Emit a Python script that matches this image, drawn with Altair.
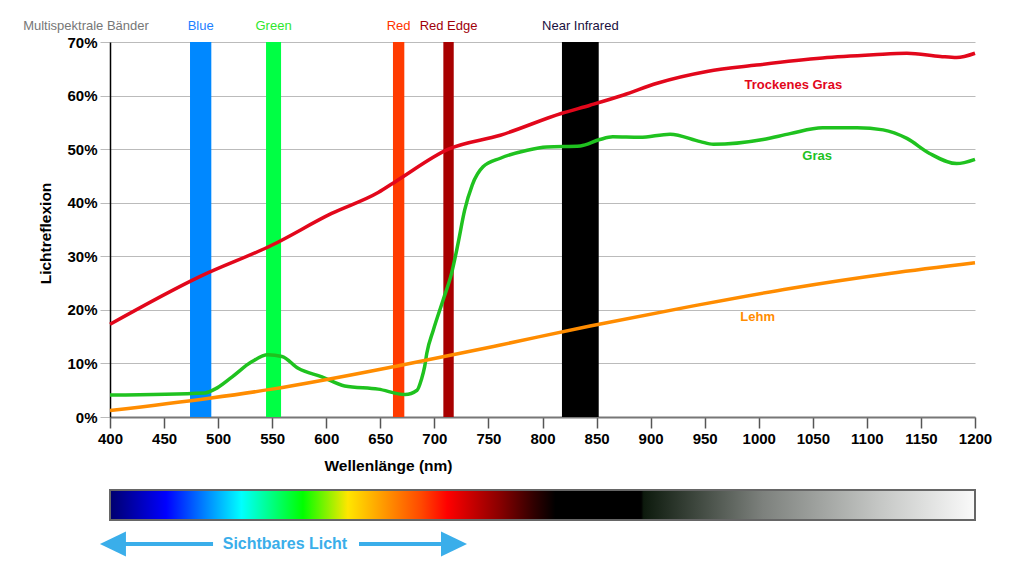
import altair as alt
import pandas as pd

FONT = "Liberation Sans"

# ---------------- data ----------------
series_names = ["Trockenes Gras", "Gras", "Lehm"]
series_colors = ["#e2071b", "#1fc21f", "#ff8c00"]

dry_nm = [400, 483, 550, 605, 648, 666, 713, 761, 818, 844, 875, 906, 952, 998, 1059, 1106, 1137, 1168, 1183, 1200]
dry_pct = [17.3, 26.2, 32.1, 38.0, 41.9, 44.2, 50.0, 52.6, 56.7, 58.2, 60.1, 62.3, 64.5, 65.7, 67.0, 67.6, 67.9, 67.3, 67.1, 67.9]

grass_nm = [400, 488, 497, 513, 531, 546, 559, 574, 596, 617, 648, 673, 684, 688, 691, 693, 699, 708, 716, 722,
            728, 735, 745, 761, 786, 804, 835, 853, 865, 890, 918, 946, 958, 1004, 1029, 1059, 1091, 1115, 1137, 1158,
            1183, 1200]
grass_pct = [4.1, 4.5, 5.2, 7.5, 10.3, 11.6, 11.3, 9.1, 7.5, 5.8, 5.2, 4.2, 5.0, 7.0, 9.4, 11.9, 16.2, 21.8, 26.9, 32.5,
             38.6, 43.3, 46.7, 48.3, 49.8, 50.4, 50.6, 51.8, 52.3, 52.2, 52.8, 51.4, 50.9, 51.8, 52.9, 54.0, 54.0, 53.6, 52.0, 49.2,
             47.3, 48.1]

soil_nm = [400, 492, 550, 668, 760, 844, 936, 1029, 1121, 1200]
soil_pct = [1.2, 3.5, 5.2, 9.6, 13.4, 17.0, 20.6, 24.0, 26.8, 28.8]

curve_label_nm = [1032, 1054, 999]
curve_label_pct = [62.0, 48.7, 18.6]

band_names = ["Blue", "Green", "Red", "Red Edge", "Near Infrared"]
band_start = [474.0, 544.3, 661.7, 708.3, 818.0]
band_end = [493.7, 558.2, 672.2, 717.9, 852.0]
band_fill = ["#0088ff", "#00ff44", "#ff3b00", "#a80000", "#000000"]
band_label_color = ["#1c80ff", "#2ee62e", "#ff3300", "#a0000a", "#1a1040"]

heading_text = "Multispektrale Bänder"
heading_nm = 377.8

spectrum_range = [400, 1200]
visible_arrow_nm = [390.7, 730.2]      # tips of the arrow
visible_shaft_left = [404.0, 495.3]
visible_shaft_right = [630.3, 717.0]
visible_text_nm = 561.8
visible_text = "Sichtbares Licht"
visible_color = "#3aaeea"

x_ticks = list(range(400, 1201, 50))
y_ticks = list(range(0, 71, 10))

# ---------------- tables ----------------
curves = pd.concat([
    pd.DataFrame({"series": series_names[0], "nm": dry_nm, "pct": dry_pct}),
    pd.DataFrame({"series": series_names[1], "nm": grass_nm, "pct": grass_pct}),
    pd.DataFrame({"series": series_names[2], "nm": soil_nm, "pct": soil_pct}),
], ignore_index=True)

curve_labels = pd.DataFrame({"series": series_names, "nm": curve_label_nm, "pct": curve_label_pct})

bands = pd.DataFrame({
    "band": band_names, "start": band_start, "end": band_end,
    "fill": band_fill, "lcolor": band_label_color,
})
bands["center"] = (bands["start"] + bands["end"]) / 2
bands["lo"] = 0
bands["hi"] = 70

heading = pd.DataFrame({"text": [heading_text], "nm": [heading_nm]})
spectrum = pd.DataFrame({"start": [spectrum_range[0]], "end": [spectrum_range[1]]})
shafts = pd.DataFrame({"start": [visible_shaft_left[0], visible_shaft_right[0]],
                       "end": [visible_shaft_left[1], visible_shaft_right[1]]})
heads = pd.DataFrame({"nm": visible_arrow_nm, "side": ["left", "right"]})
vis_text = pd.DataFrame({"nm": [visible_text_nm], "text": [visible_text]})

# ---------------- scales / axes ----------------
X_SCALE = alt.Scale(domain=[400, 1200], nice=False, zero=False)
Y_SCALE = alt.Scale(domain=[0, 70], nice=False, zero=True)
X_TITLE = "Wellenlänge (nm)"
Y_TITLE = "Lichtreflexion"

X_AXIS = alt.Axis(
    values=x_ticks, format="d", grid=False, domainColor="#777777", domainWidth=2,
    tickColor="#555555", tickSize=11, tickWidth=1.5,
    labelFont=FONT, labelFontSize=15, labelFontWeight="bold", labelColor="#000000",
    labelPadding=3, labelFlush=False, labelOverlap=False,
    titleFont=FONT, titleFontSize=15.5, titleFontWeight="bold", titleColor="#000000",
    titleX=278, titleY=48, titleAlign="center", titleBaseline="middle",
)
Y_AXIS = alt.Axis(
    values=y_ticks, grid=True, gridColor="#bbbbbb", gridWidth=1,
    domainColor="#000000", domainWidth=1.5,
    tickColor="#bbbbbb", tickSize=10, tickWidth=1,
    labelExpr="datum.value + '%'",
    labelFont=FONT, labelFontSize=15, labelFontWeight="bold", labelColor="#000000",
    labelPadding=3,
    titleFont=FONT, titleFontSize=15.5, titleFontWeight="bold", titleColor="#000000",
    titleX=-65, titleY=191, titleAngle=-90, titleAlign="center", titleBaseline="middle",
)


def X(field):
    return alt.X(field, type="quantitative", scale=X_SCALE, axis=X_AXIS, title=X_TITLE)


def Y(field):
    return alt.Y(field, type="quantitative", scale=Y_SCALE, axis=Y_AXIS, title=Y_TITLE)


# ---------------- layers ----------------
band_rects = alt.Chart(bands).mark_rect().encode(
    x=X("start"), x2="end", y=Y("lo"), y2="hi",
    fill=alt.Fill("fill:N", scale=None),
)

band_labels = alt.Chart(bands).mark_text(
    font=FONT, fontSize=13, baseline="middle", align="center"
).encode(
    x=X("center"), y=alt.value(-16), text="band:N",
    color=alt.Color("lcolor:N", scale=None),
)

heading_label = alt.Chart(heading).mark_text(
    font=FONT, fontSize=13, baseline="middle", align="center", color="#777777"
).encode(x=X("nm"), y=alt.value(-16), text="text:N")

lines = alt.Chart(curves).mark_line(interpolate="monotone", strokeWidth=3.5).encode(
    x=X("nm"), y=Y("pct"),
    color=alt.Color("series:N", scale=alt.Scale(domain=series_names, range=series_colors), legend=None),
    detail="series:N",
)

line_labels = alt.Chart(curve_labels).mark_text(
    font=FONT, fontSize=13, fontWeight="bold", baseline="middle", align="center"
).encode(
    x=X("nm"), y=Y("pct"), text="series:N",
    color=alt.Color("series:N", scale=alt.Scale(domain=series_names, range=series_colors), legend=None),
)

gradient = alt.Gradient(
    gradient="linear", x1=0, x2=1, y1=0, y2=0,
    stops=[
        alt.GradientStop(color="#00006e", offset=0.0),
        alt.GradientStop(color="#0000ff", offset=0.065),
        alt.GradientStop(color="#00ffff", offset=0.152),
        alt.GradientStop(color="#00ff00", offset=0.223),
        alt.GradientStop(color="#ffe600", offset=0.275),
        alt.GradientStop(color="#ffa500", offset=0.31),
        alt.GradientStop(color="#ff4800", offset=0.36),
        alt.GradientStop(color="#ff0000", offset=0.39),
        alt.GradientStop(color="#8a0000", offset=0.45),
        alt.GradientStop(color="#300000", offset=0.49),
        alt.GradientStop(color="#000000", offset=0.515),
        alt.GradientStop(color="#000000", offset=0.614),
        alt.GradientStop(color="#0d1a0d", offset=0.617),
        alt.GradientStop(color="#7d817d", offset=0.755),
        alt.GradientStop(color="#c5c7c5", offset=0.89),
        alt.GradientStop(color="#fafafa", offset=1.0),
    ],
)

spectrum_bar = alt.Chart(spectrum).mark_rect(
    fill=gradient, stroke="#666666", strokeWidth=2
).encode(x=X("start"), x2="end", y=alt.value(448), y2=alt.value(478))

arrow_shafts = alt.Chart(shafts).mark_rule(color=visible_color, strokeWidth=4).encode(
    x=X("start"), x2="end", y=alt.value(502)
)

left_head = alt.Chart(heads[heads.side == "left"]).mark_point(
    shape="M0,0L2,-0.96L2,0.96Z", size=676, filled=True, opacity=1,
    color=visible_color, strokeWidth=0
).encode(x=X("nm"), y=alt.value(502))

right_head = alt.Chart(heads[heads.side == "right"]).mark_point(
    shape="M0,0L-2,-0.96L-2,0.96Z", size=676, filled=True, opacity=1,
    color=visible_color, strokeWidth=0
).encode(x=X("nm"), y=alt.value(502))

visible_label = alt.Chart(vis_text).mark_text(
    font=FONT, fontSize=16, fontWeight="bold", baseline="middle", align="center",
    color=visible_color
).encode(x=X("nm"), y=alt.value(502), text="text:N")

chart = alt.layer(
    band_rects, lines, line_labels, band_labels, heading_label,
    spectrum_bar, arrow_shafts, left_head, right_head, visible_label,
).properties(
    width=865, height=375,
    padding={"left": 110, "top": 42, "right": 38, "bottom": 155},
    autosize=alt.AutoSizeParams(type="none"),
    background="#ffffff",
).configure_view(stroke=None)

chart.save("out.html", embed_options={"renderer": "svg", "actions": False})
